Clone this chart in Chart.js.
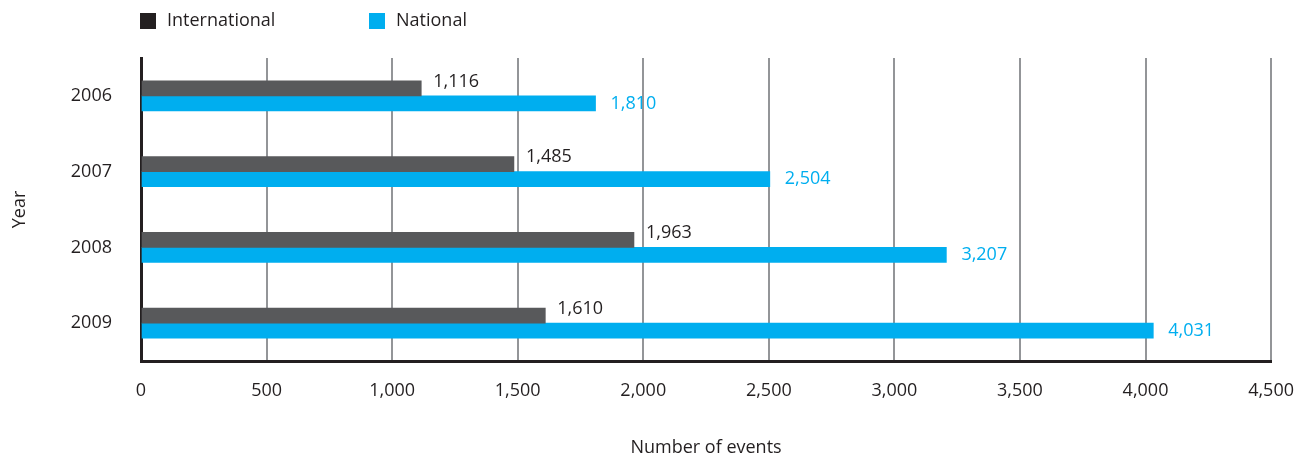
<!DOCTYPE html>
<html>
<head>
<meta charset="utf-8">
<title>Events by year</title>
<script src="https://cdn.jsdelivr.net/npm/chart.js@4/dist/chart.umd.min.js"></script>
<style>
  html, body { margin: 0; padding: 0; background: #fff; }
  canvas { display: block; }
</style>
</head>
<body>
<canvas id="eventsChart" width="1313" height="462"></canvas>
<script>
// Events per year, split by scope
const years = ['2006', '2007', '2008', '2009'];
const international = [1116, 1485, 1963, 1610];
const national = [1810, 2504, 3207, 4031];
const xMax = 4500;
const xStep = 500;

const INK = '#231f20';
const GREY_BAR = '#58595b';
const CYAN = '#00aeef';
const GRID = '#939598';
const FONT = '"Open Sans", "Noto Sans", sans-serif';

const fmt = v => Number(v).toLocaleString('en-US');

// value labels at the end of each bar
const valueLabels = {
  id: 'valueLabels',
  afterDatasetsDraw(chart) {
    const ctx = chart.ctx;
    ctx.save();
    ctx.font = '18px ' + FONT;
    ctx.textAlign = 'left';
    ctx.textBaseline = 'middle';
    chart.data.datasets.forEach((ds, i) => {
      const meta = chart.getDatasetMeta(i);
      ctx.fillStyle = ds.labelColor;
      meta.data.forEach((bar, j) => {
        ctx.fillText(fmt(ds.data[j]), bar.x + ds.labelGap, bar.y + ds.labelShift);
      });
    });
    ctx.restore();
  }
};

// legend row above the plot, squares + names
const topLegend = {
  id: 'topLegend',
  afterDraw(chart) {
    const ctx = chart.ctx;
    const left = chart.chartArea.left - 1;
    const offsets = [0, 229];
    ctx.save();
    ctx.font = '18px ' + FONT;
    ctx.textBaseline = 'middle';
    ctx.textAlign = 'left';
    chart.data.datasets.forEach((ds, i) => {
      const x = left + offsets[i];
      ctx.fillStyle = ds.legendColor;
      ctx.fillRect(x, 13, 16, 16);
      ctx.fillStyle = INK;
      ctx.fillText(ds.label, x + 27, 21);
    });
    ctx.restore();
  }
};

new Chart(document.getElementById('eventsChart'), {
  type: 'bar',
  data: {
    labels: years,
    datasets: [
      {
        label: 'International',
        data: international,
        backgroundColor: GREY_BAR,
        legendColor: INK,
        labelColor: INK,
        labelGap: 12,
        labelShift: -7,
        barThickness: 15
      },
      {
        label: 'National',
        data: national,
        backgroundColor: CYAN,
        legendColor: CYAN,
        labelColor: CYAN,
        labelGap: 15,
        labelShift: 0,
        barThickness: 15
      }
    ]
  },
  options: {
    indexAxis: 'y',
    responsive: false,
    animation: false,
    layout: { padding: { top: 58, right: 41, left: 0, bottom: 0 } },
    plugins: {
      legend: { display: false },
      tooltip: { enabled: false }
    },
    scales: {
      x: {
        min: 0,
        max: xMax,
        afterFit(scale) { scale.height = 101; },
        ticks: {
          stepSize: xStep,
          color: INK,
          padding: 19,
          font: { family: FONT, size: 18 },
          callback: v => fmt(v)
        },
        grid: {
          drawTicks: false,
          lineWidth: 2,
          color: ctx => (ctx.tick && ctx.tick.value === 0 ? 'rgba(0,0,0,0)' : GRID)
        },
        border: { display: true, color: INK, width: 3 },
        title: {
          display: true,
          text: 'Number of events',
          color: INK,
          font: { family: FONT, size: 18 },
          padding: { top: 0, bottom: 3 }
        }
      },
      y: {
        afterFit(scale) { scale.width = 141; },
        ticks: {
          color: INK,
          padding: 29,
          font: { family: FONT, size: 18 }
        },
        grid: { display: false, drawTicks: false },
        border: { display: true, color: INK, width: 3 },
        title: {
          display: true,
          text: 'Year',
          color: INK,
          font: { family: FONT, size: 18 },
          padding: { top: 9, bottom: 0 }
        }
      }
    }
  },
  plugins: [valueLabels, topLegend]
});
</script>
</body>
</html>
